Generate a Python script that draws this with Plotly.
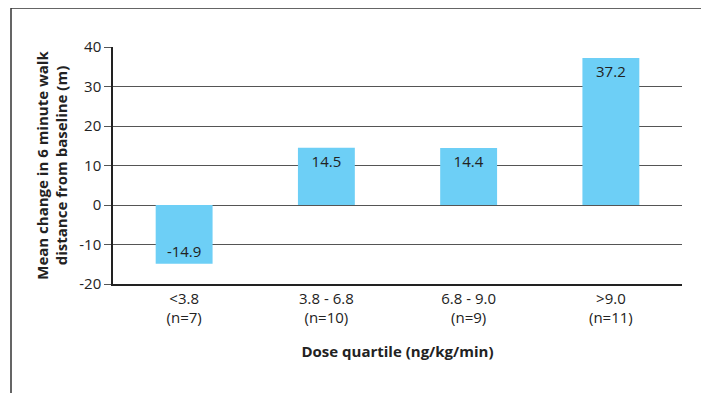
import plotly.graph_objects as go

categories = ["<3.8<br>(n=7)", "3.8 - 6.8<br>(n=10)", "6.8 - 9.0<br>(n=9)", ">9.0<br>(n=11)"]
values = [-14.9, 14.5, 14.4, 37.2]
labels = ["-14.9", "14.5", "14.4", "37.2"]
y_ticks = [-20, -10, 0, 10, 20, 30, 40]
y_tick_text = ["-20", "-10", "0", "10", "20", "30", "40"]

fig = go.Figure()
fig.add_trace(go.Bar(
    x=categories, y=values, text=labels,
    textposition="inside", insidetextanchor="end",
    textfont=dict(family="Open Sans", size=15, color="#222222"),
    marker=dict(color="#6DCFF6", line=dict(width=0)),
    width=0.4, cliponaxis=False,
))

# page body has an 8px default margin, so the figure is drawn 8px smaller
OFF = 8
W, H = 709 - OFF, 393 - OFF
L, R, T, B = 113 - OFF, 27, 47 - OFF, 109
pw, ph = W - L - R, H - T - B

def px_x(p):
    return (p - OFF - L) / pw

def px_y(p):
    return (H - B - (p - OFF)) / ph

fig.update_layout(
    width=W, height=H,
    margin=dict(l=L, r=R, t=T, b=B, autoexpand=False),
    paper_bgcolor="white", plot_bgcolor="white",
    showlegend=False,
    font=dict(family="Open Sans", size=15, color="#222222"),
    xaxis=dict(
        showgrid=False, showline=True, linecolor="#222222", linewidth=1.5,
        ticks="", tickfont=dict(size=15),
        title=dict(text="<b>Dose quartile (ng/kg/min)</b>", font=dict(size=15), standoff=20),
    ),
    yaxis=dict(
        range=[-20, 40], tickvals=y_ticks, ticktext=y_tick_text,
        showgrid=True, gridcolor="#555555", gridwidth=1.3,
        zeroline=True, zerolinecolor="#555555", zerolinewidth=1.3,
        showline=True, linecolor="#222222", linewidth=1.5,
        ticks="outside", ticklen=7, tickcolor="#555555", tickwidth=1.3,
        tickfont=dict(size=15),
        title=dict(text="<b>Mean change in 6 minute walk<br>distance from baseline (m)</b>", font=dict(size=15), standoff=8),
    ),
    shapes=[dict(type="rect", xref="paper", yref="paper",
                 x0=px_x(11), x1=px_x(704), y0=px_y(420), y1=px_y(8),
                 line=dict(color="#333333", width=1.5), layer="below")],
)

fig.write_html("out.html")
